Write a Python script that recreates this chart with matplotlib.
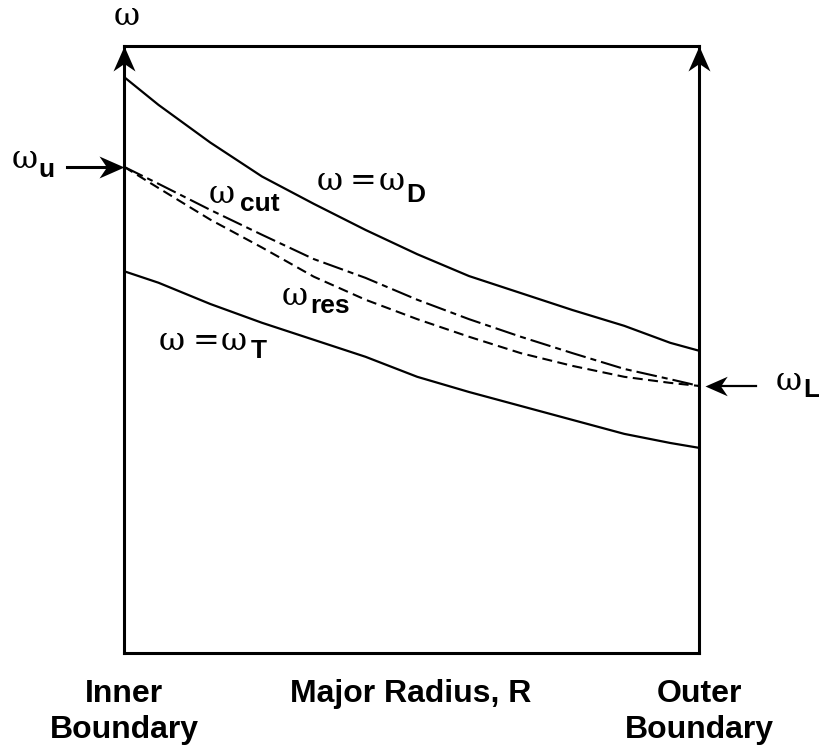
import numpy as np
import matplotlib
matplotlib.use("Agg")
import matplotlib.pyplot as plt
from matplotlib.path import Path

W, H = 820, 751

# normalised major radius: 0 = inner boundary, 1 = outer boundary
radius = [0.0, 0.06, 0.15, 0.24, 0.33, 0.42, 0.51, 0.60, 0.69, 0.78, 0.87, 0.95, 1.0]

# frequencies, normalised to the height of the frame
omega_D = [0.949, 0.903, 0.841, 0.785, 0.740, 0.697, 0.657, 0.621, 0.593, 0.565, 0.539, 0.511, 0.498]
omega_cut = [0.801, 0.773, 0.730, 0.689, 0.649, 0.618, 0.582, 0.550, 0.521, 0.494, 0.468, 0.451, 0.440]
omega_res = [0.801, 0.766, 0.714, 0.668, 0.620, 0.582, 0.550, 0.521, 0.494, 0.473, 0.455, 0.445, 0.440]
omega_T = [0.629, 0.610, 0.575, 0.544, 0.516, 0.488, 0.455, 0.430, 0.407, 0.384, 0.361, 0.346, 0.338]

omega_u = omega_cut[0]
omega_L = omega_cut[-1]

SERIF = ["DejaVu Serif"]
SANS = ["Liberation Sans Narrow", "Liberation Sans", "DejaVu Sans"]


def head(angle):
    # barbed arrow head, tip at the origin, pointing along +x before rotation
    v = np.array([(0, 0), (-1, 0.44), (-0.7, 0), (-1, -0.44), (0, 0)])
    c, s = np.cos(np.radians(angle)), np.sin(np.radians(angle))
    v = v @ np.array([[c, s], [-s, c]])
    return Path(v, [Path.MOVETO, Path.LINETO, Path.LINETO, Path.LINETO, Path.CLOSEPOLY])


fig = plt.figure(figsize=(W / 100, H / 100), dpi=100)
ax = fig.add_axes([124 / W, 1 - 653 / H, 575 / W, 607 / H])
ax.set_xlim(0, 1)
ax.set_ylim(0, 1)
ax.set_xticks([])
ax.set_yticks([])
for sp in ax.spines.values():
    sp.set_linewidth(2.2)

ax.plot(radius, omega_D, color="black", lw=1.6)
ax.plot(radius, omega_T, color="black", lw=1.6)
ax.plot(radius, omega_cut, color="black", lw=1.5, linestyle=(0, (10, 2.4, 2.9, 2.4)))
ax.plot(radius, omega_res, color="black", lw=1.5, linestyle=(0, (4.8, 2.6)))

# arrow heads on the two vertical boundaries
ax.plot([0, 1], [1, 1], linestyle="none", marker=head(90), markersize=36,
        color="black", markeredgewidth=0, clip_on=False)

# omega_u arrow (inner boundary)
ax.plot([-0.099, -0.03], [omega_u, omega_u], color="black", lw=2.2, clip_on=False)
ax.plot([0], [omega_u], linestyle="none", marker=head(0), markersize=36,
        color="black", markeredgewidth=0, clip_on=False)

# omega_L arrow (outer boundary)
ax.plot([1.1, 1.03], [omega_L, omega_L], color="black", lw=1.6, clip_on=False)
ax.plot([1.01], [omega_L], linestyle="none", marker=head(180), markersize=32,
        color="black", markeredgewidth=0, clip_on=False)


def put(x, y, s, fam, size, weight="normal", ha="left"):
    fig.text(x / W, 1 - y / H, s, family=fam, fontsize=size, weight=weight,
             ha=ha, va="baseline")


OM = 23   # size of the omega glyphs
SUB = 19  # size of the subscripts

put(127, 25, "ω", SERIF, OM, ha="center")

put(12, 168, "ω", SERIF, OM)
put(38, 177, "u", SANS, SUB, "bold")

put(209, 203, "ω", SERIF, OM)
put(240, 211, "cut", SANS, SUB, "bold")

put(282, 305, "ω", SERIF, OM)
put(310, 313, "res", SANS, SUB, "bold")

put(317, 190, "ω", SERIF, OM)
put(350, 190, "=", SERIF, OM)
put(379, 190, "ω", SERIF, OM)
put(406, 202, "D", SANS, SUB, "bold")

put(159, 350, "ω", SERIF, OM)
put(193, 350, "=", SERIF, OM)
put(221, 350, "ω", SERIF, OM)
put(251, 358, "T", SANS, SUB, "bold")

put(776, 390, "ω", SERIF, OM)
put(803, 397, "L", SANS, SUB, "bold")

put(124, 702, "Inner", SANS, 23, "bold", ha="center")
put(124, 738, "Boundary", SANS, 23, "bold", ha="center")
put(411, 702, "Major Radius, R", SANS, 23, "bold", ha="center")
put(699, 702, "Outer", SANS, 23, "bold", ha="center")
put(699, 738, "Boundary", SANS, 23, "bold", ha="center")

fig.savefig("out.png", dpi=100)
